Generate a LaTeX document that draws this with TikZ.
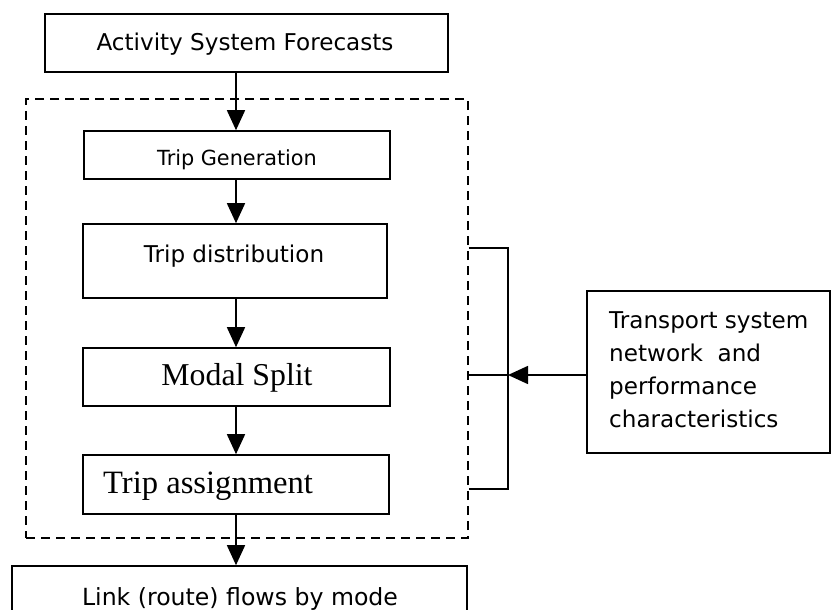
\documentclass[tikz,border=0pt]{standalone}
\usepackage{fontspec}
\newfontfamily\sansf{DejaVu Sans}
\newfontfamily\seriff{Liberation Serif}
\usetikzlibrary{arrows.meta}
\tikzset{
  boxst/.style={draw, line width=1.6pt, inner sep=0pt, rectangle},
  grpst/.style={draw, line width=1.8pt, dash pattern=on 9pt off 6pt, inner sep=0pt, rectangle},
  arr/.style={line width=1.5pt, -{Triangle[length=20pt,width=18pt]}},
  ln/.style={line width=1.5pt},
  txt/.style={inner sep=0pt, font=\sansf\fontsize{23.1}{27}\selectfont},
  txtb/.style={inner sep=0pt, font=\sansf\fontsize{23.6}{27}\selectfont},
  txts/.style={inner sep=0pt, font=\sansf\fontsize{20.8}{24}\selectfont},
  txtr/.style={inner sep=0pt, font=\seriff\fontsize{31.8}{36}\selectfont},
  txtr2/.style={inner sep=0pt, font=\seriff\fontsize{32.6}{36}\selectfont}
}
\begin{document}
\begin{tikzpicture}[x=1pt,y=-1pt]
\useasboundingbox (0,0) rectangle (836,610);
\clip (0,0) rectangle (836,610);
\fill[white] (0,0) rectangle (836,610);
% boxes
\node[boxst, minimum width=403pt, minimum height=58pt] (top) at (246.5,43) {};
\node[grpst, minimum width=442pt, minimum height=439pt] (grp) at (247,318.5) {};
\node[boxst, minimum width=306pt, minimum height=48pt] (tg) at (237,155) {};
\node[boxst, minimum width=304pt, minimum height=74pt] (td) at (235,261) {};
\node[boxst, minimum width=307pt, minimum height=58pt] (ms) at (236.5,377) {};
\node[boxst, minimum width=306pt, minimum height=59pt] (ta) at (236,484.5) {};
\node[boxst, minimum width=455pt, minimum height=74pt] (lk) at (239.5,603) {};
\node[boxst, minimum width=243pt, minimum height=162pt] (rb) at (708.5,372) {};
% texts
\node[txt, anchor=base] (topt) at (245,51) {Activity System Forecasts};
\node[txts, anchor=base] (tgt) at (237,165) {Trip Generation};
\node[txt, anchor=base] (tdt) at (234,262) {Trip distribution};
\node[txtr, anchor=base] (mst) at (237,385) {Modal Split};
\node[txtr2, anchor=base west] (tat) at (103,493) {Trip assignment};
\node[txtb, anchor=base] (lkt) at (240,605) {Link (route) flows by mode};
\node[txt, anchor=base west] (rb1) at (609,328) {Transport system};
\node[txt, anchor=base west] (rb2) at (609,361) {network~~and};
\node[txt, anchor=base west] (rb3) at (609,394) {performance};
\node[txt, anchor=base west] (rb4) at (609,427) {characteristics};
% vertical arrows
\coordinate (ax) at (236,0);
\draw[arr] (ax |- top.south) -- (ax |- tg.north);
\draw[arr] (ax |- tg.south) -- (ax |- td.north);
\draw[arr] (ax |- td.south) -- (ax |- ms.north);
\draw[arr] (ax |- ms.south) -- (ax |- ta.north);
\draw[arr] (ax |- ta.south) -- (ax |- lk.north);
% bracket
\coordinate (b1) at (508,248);
\coordinate (b2) at (508,375);
\coordinate (b3) at (508,489);
\draw[ln] (grp.east |- b1) -- (b1) -- (b3) -- (grp.east |- b3);
\draw[ln] (grp.east |- b2) -- (b2);
\draw[arr] (rb.west |- b2) -- (b2);
\end{tikzpicture}
\end{document}
